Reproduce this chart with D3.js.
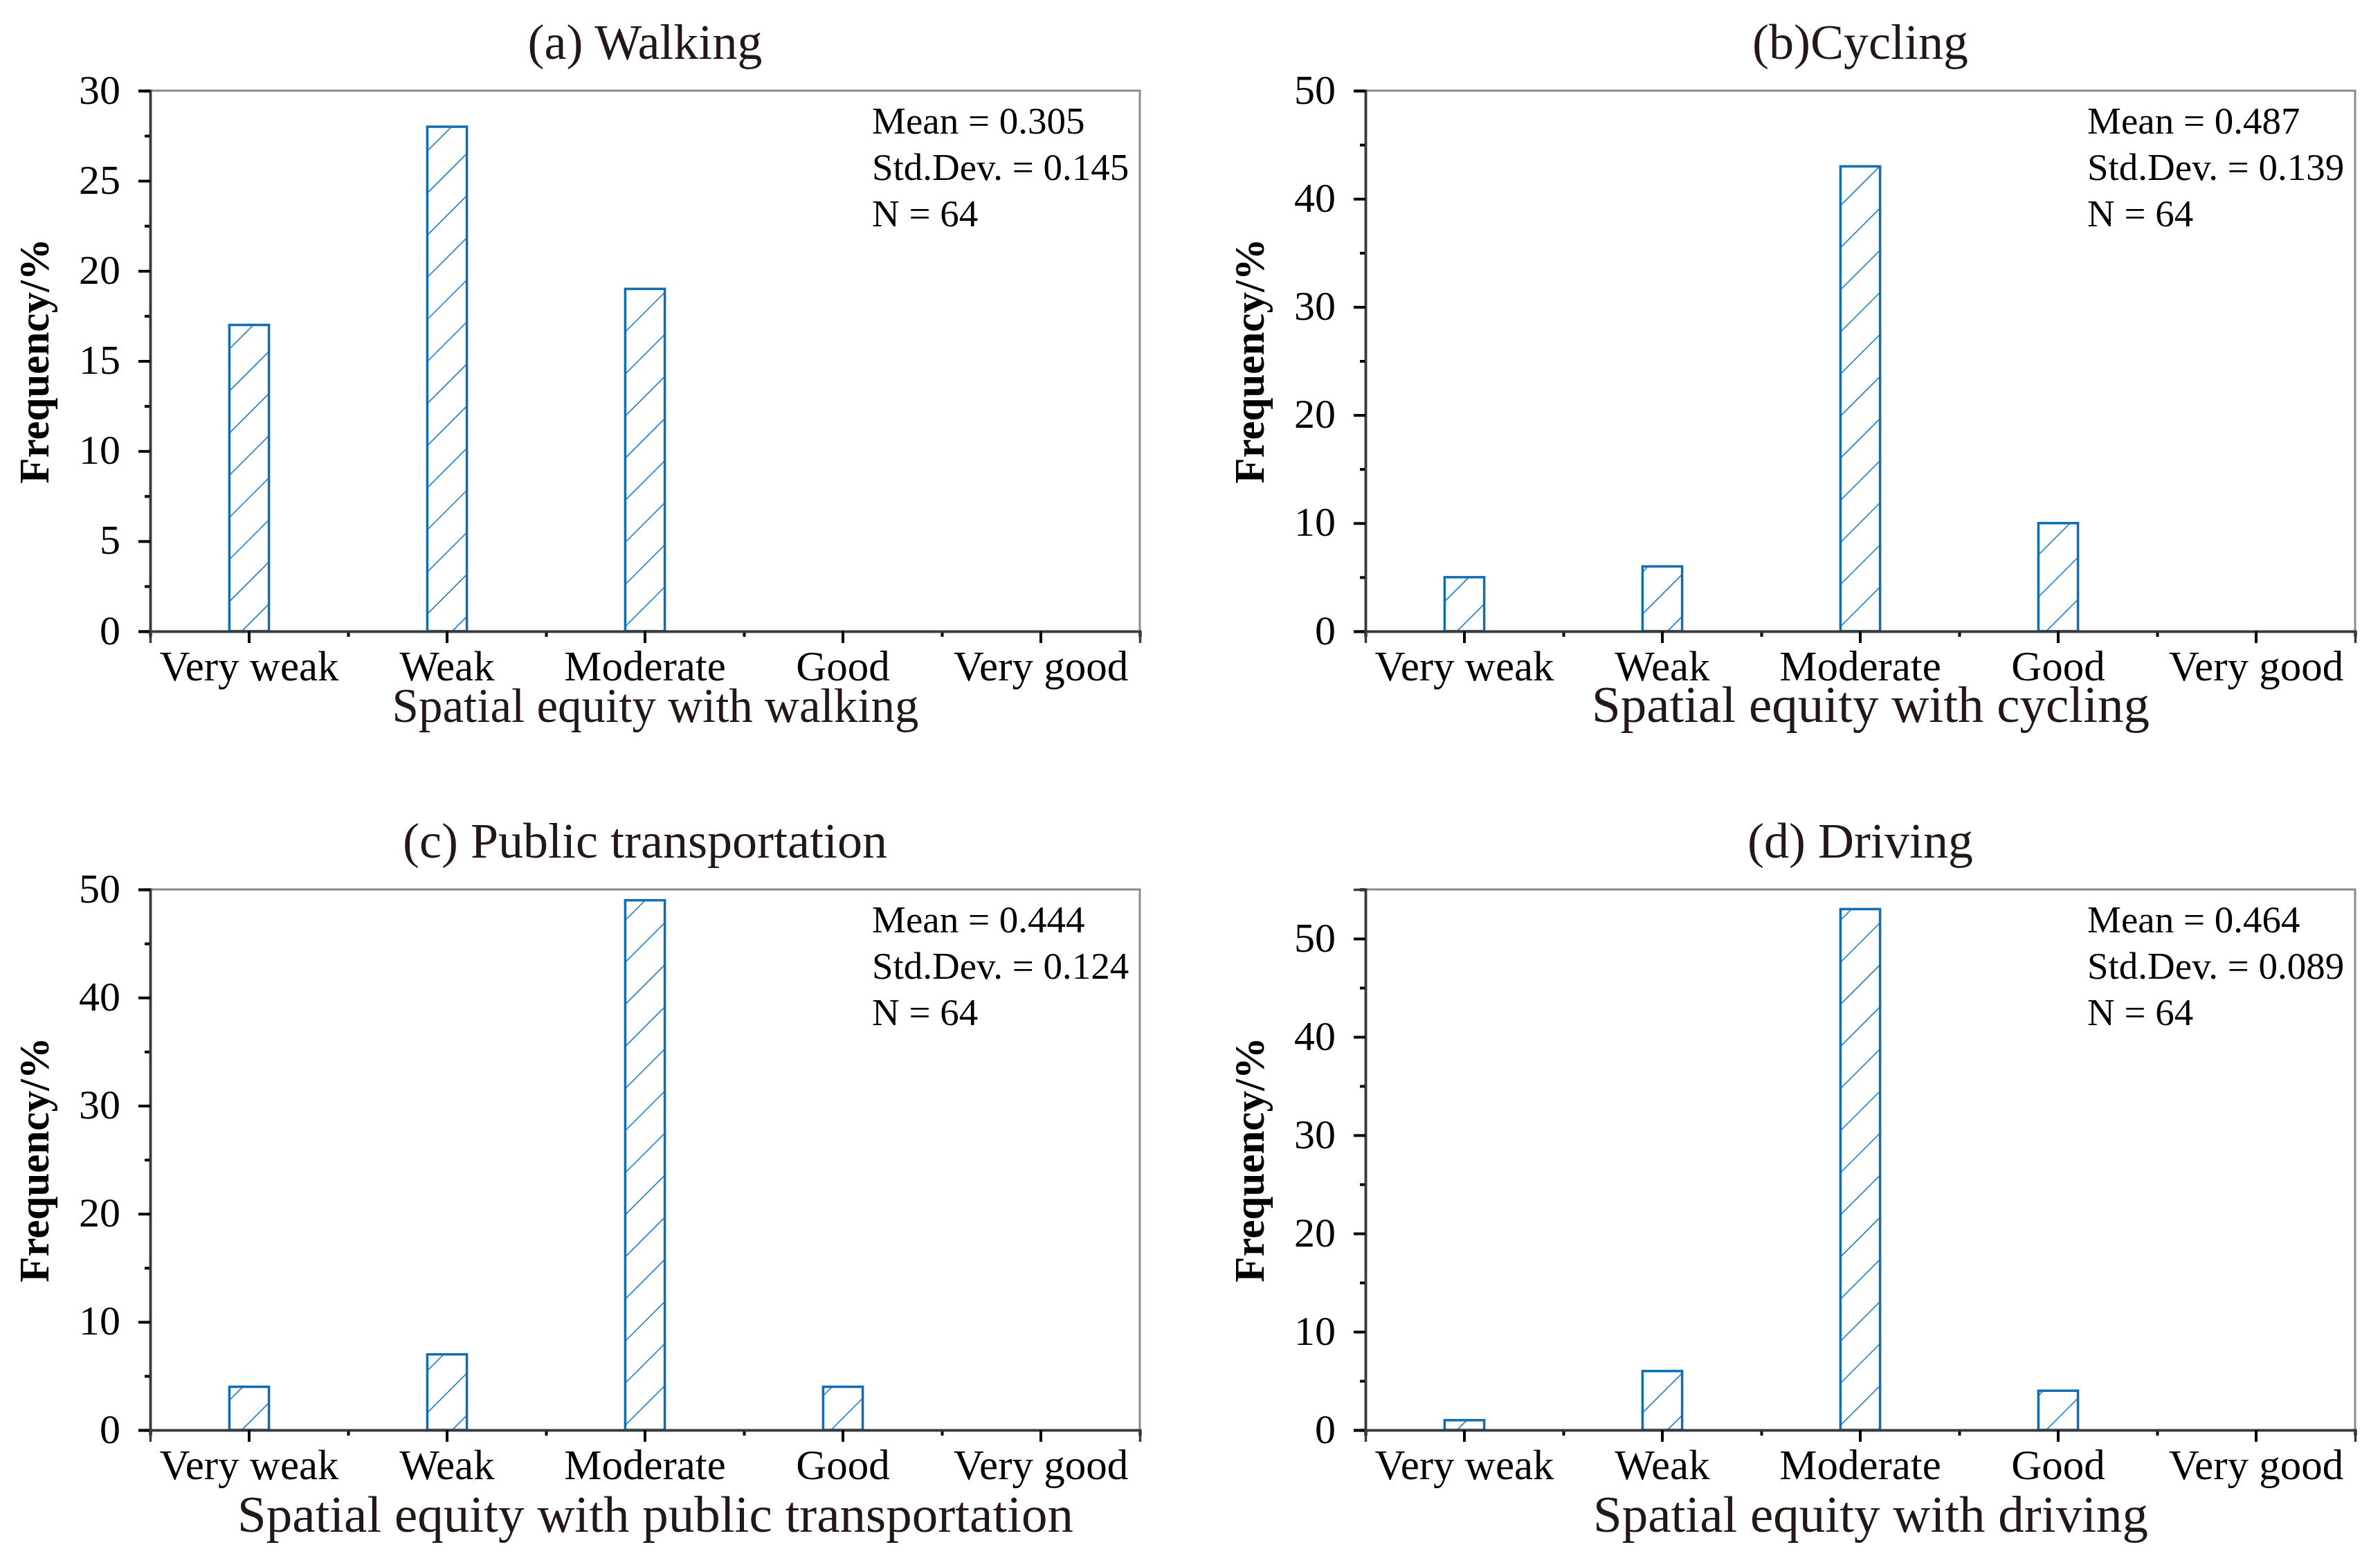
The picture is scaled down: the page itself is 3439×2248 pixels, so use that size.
<!DOCTYPE html>
<html>
<head>
<meta charset="utf-8">
<script src="https://cdn.jsdelivr.net/npm/d3@7"></script>
<style>
  body { margin: 0; background: #fff; }
  svg text { font-family: "Liberation Serif", "Times New Roman", serif; }
</style>
</head>
<body>
<svg id="chart"></svg>
<script>
// categories on every x axis
var categories = ["Very weak", "Weak", "Moderate", "Good", "Very good"];

// frequency (%) per category
var walking = [17, 28, 19, 0, 0];
var cycling = [5, 6, 43, 10, 0];
var publicTransport = [4, 7, 49, 4, 0];
var driving = [1, 6, 53, 4, 0];

var panelTitles = ["(a) Walking", "(b)Cycling", "(c) Public transportation", "(d) Driving"];
var xTitles = [
  "Spatial equity with walking",
  "Spatial equity with cycling",
  "Spatial equity with public transportation",
  "Spatial equity with driving",
];
var yMaxes = [30, 50, 50, 55];
var yTickSteps = [5, 10, 10, 10];
var means = ["0.305", "0.487", "0.444", "0.464"];
var stdDevs = ["0.145", "0.139", "0.124", "0.089"];
var counts = [64, 64, 64, 64];

/*
Layout constants
*/
var W = 3439, H = 2248;
var plotW = 1430, plotH = 781;
var panelPos = [
  { left: 217, top: 131, xTitleGap: 131, xTitleSize: 69 },
  { left: 1973, top: 131, xTitleGap: 131, xTitleSize: 75 },
  { left: 217, top: 1285, xTitleGap: 147, xTitleSize: 75 },
  { left: 1973, top: 1285, xTitleGap: 147, xTitleSize: 75 },
];
var barColor = "#0f6db5";
var titleColor = "#231815";
var majorTick = 17, minorTick = 8;

var series = [walking, cycling, publicTransport, driving];

var svg = d3.select("#chart").attr("width", W).attr("height", H);

// hatch pattern for the bars
svg.append("defs")
  .append("pattern")
  .attr("id", "hatch")
  .attr("patternUnits", "userSpaceOnUse")
  .attr("width", 43)
  .attr("height", 43)
  .attr("patternTransform", "rotate(45)")
  .append("line")
  .attr("x1", 0).attr("y1", 0)
  .attr("x2", 0).attr("y2", 43)
  .attr("stroke", barColor)
  .attr("stroke-width", 3);

series.forEach(function (values, i) {
  var pos = panelPos[i];
  var g = svg.append("g")
    .attr("transform", "translate(" + pos.left + "," + pos.top + ")");

  var x = d3.scaleBand().domain(categories).range([0, plotW]);
  var xMinor = d3.scaleLinear().domain([0, categories.length]).range([0, plotW]);
  var y = d3.scaleLinear().domain([0, yMaxes[i]]).range([plotH, 0]);

  // top and right frame
  g.append("path")
    .attr("d", "M0,0H" + plotW + "V" + plotH)
    .attr("fill", "none")
    .attr("stroke", "#8a8a8a")
    .attr("stroke-width", 3);

  // bars
  var data = categories.map(function (c, k) { return { cat: c, v: values[k] }; })
    .filter(function (d) { return d.v > 0; });
  var bw = x.bandwidth() * 0.2;
  g.append("g").selectAll("rect")
    .data(data)
    .enter()
    .append("rect")
    .attr("x", function (d) { return x(d.cat) + x.bandwidth() / 2 - bw / 2; })
    .attr("width", bw)
    .attr("y", function (d) { return y(d.v); })
    .attr("height", function (d) { return plotH - y(d.v); })
    .attr("fill", "url(#hatch)")
    .attr("stroke", barColor)
    .attr("stroke-width", 3.5);

  // y axis minor ticks
  var step = yTickSteps[i];
  g.append("g")
    .call(d3.axisLeft(y)
      .tickValues(d3.range(step / 2, yMaxes[i] + 0.01, step))
      .tickSize(minorTick)
      .tickFormat(""))
    .call(styleAxis);

  // y axis major
  var yAxis = g.append("g")
    .call(d3.axisLeft(y)
      .tickValues(d3.range(0, yMaxes[i] + 0.01, step))
      .tickSize(majorTick)
      .tickPadding(26))
    .call(styleAxis);
  yAxis.selectAll("text")
    .attr("font-size", 60)
    .attr("dy", "0.3em");

  // x axis minor ticks at the band edges
  g.append("g")
    .attr("transform", "translate(0," + plotH + ")")
    .call(d3.axisBottom(xMinor)
      .tickValues(d3.range(0, categories.length + 1))
      .tickSize(minorTick)
      .tickFormat(""))
    .call(styleAxis);

  // x axis major
  var xAxis = g.append("g")
    .attr("transform", "translate(0," + plotH + ")")
    .call(d3.axisBottom(x).tickSize(majorTick).tickPadding(11))
    .call(styleAxis);
  xAxis.selectAll("text").attr("font-size", 61);

  // panel title
  g.append("text")
    .attr("x", plotW / 2)
    .attr("y", -46)
    .attr("text-anchor", "middle")
    .attr("font-size", 72)
    .attr("fill", titleColor)
    .text(panelTitles[i]);

  // x title
  g.append("text")
    .attr("x", plotW / 2 + 15)
    .attr("y", plotH + pos.xTitleGap)
    .attr("text-anchor", "middle")
    .attr("font-size", pos.xTitleSize)
    .attr("fill", titleColor)
    .text(xTitles[i]);

  // y title
  g.append("text")
    .attr("transform", "translate(-147," + plotH / 2 + ") rotate(-90)")
    .attr("text-anchor", "middle")
    .attr("font-size", 61)
    .attr("font-weight", "bold")
    .attr("fill", "#000")
    .text("Frequency/%");

  // stats box
  var stats = [
    "Mean = " + means[i],
    "Std.Dev. = " + stdDevs[i],
    "N = " + counts[i],
  ];
  g.append("g").selectAll("text")
    .data(stats)
    .enter()
    .append("text")
    .attr("x", 1043)
    .attr("y", function (d, k) { return 62 + k * 67; })
    .attr("font-size", 55)
    .attr("fill", "#000")
    .text(function (d) { return d; });
});

function styleAxis(sel) {
  sel.select(".domain")
    .attr("stroke", "#3a3a3a")
    .attr("stroke-width", 3.5);
  sel.selectAll(".tick line")
    .attr("stroke", "#000")
    .attr("stroke-width", 4);
  sel.selectAll(".tick text")
    .attr("fill", "#000")
    .style("font-family", '"Liberation Serif", "Times New Roman", serif');
}
</script>
</body>
</html>
